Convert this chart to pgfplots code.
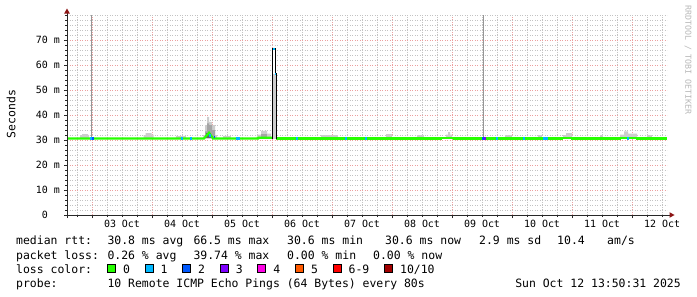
\documentclass[border=0pt]{standalone}
\usepackage{fontspec}
\setmainfont{DejaVu Sans Mono}
\usepackage{pgfplots}
\pgfplotsset{compat=1.18}
\definecolor{gridc}{RGB}{195,195,195}
\definecolor{mgridc}{RGB}{236,160,160}
\definecolor{axisc}{RGB}{40,40,40}
\definecolor{arrowc}{RGB}{140,20,20}
\definecolor{lzero}{HTML}{26FF00}
\definecolor{lone}{HTML}{00B8FF}
\definecolor{ltwo}{HTML}{0059FF}
\definecolor{lthree}{HTML}{7E00FF}
\definecolor{lfour}{HTML}{FF00E6}
\definecolor{lfive}{HTML}{FF5A00}
\definecolor{lsix}{HTML}{FF0000}
\definecolor{lten}{HTML}{A10000}
\definecolor{smka}{RGB}{205,205,205}
\definecolor{smkb}{RGB}{165,165,165}
\definecolor{smkc}{RGB}{100,100,100}
\definecolor{spk}{RGB}{150,150,150}
\definecolor{wm}{RGB}{185,185,185}
\newcommand\tfont{\fontsize{10}{12}\selectfont}
\newcommand\lfont{\fontsize{11.5}{13}\selectfont}
\begin{document}
\begin{tikzpicture}
\path[use as bounding box, fill=white] (0,0) rectangle (697bp,-297bp);
\begin{axis}[
  at={(67bp,-215bp)}, anchor=south west,
  scale only axis, width=600bp, height=200bp,
  xmin=14, xmax=254, ymin=0, ymax=80,
  axis lines=left, axis line style={draw=none},
  xtick={24,48,...,240}, xticklabels={,,,,,,,,,,},
  minor xtick={18,30,36,42,54,60,66,78,84,90,102,108,114,126,132,138,150,156,162,174,180,186,198,204,210,222,228,234,246,252},
  extra x ticks={36,60,84,108,132,156,180,204,228,252},
  extra x tick labels={03 Oct,04 Oct,05 Oct,06 Oct,07 Oct,08 Oct,09 Oct,10 Oct,11 Oct,12 Oct},
  extra x tick style={grid=none, major tick length=0pt},
  ytick={0,10,...,70},
  yticklabels={0\hphantom{mm},10 m,20 m,30 m,40 m,50 m,60 m,70 m},
  minor ytick={2,4,6,8,12,14,16,18,22,24,26,28,32,34,36,38,42,44,46,48,52,54,56,58,62,64,66,68,72,74,76,78,80},
  grid=both,
  major grid style={mgridc, dash pattern=on 1bp off 1.5bp, line width=0.8bp},
  minor grid style={gridc, dash pattern=on 1bp off 1.5bp, line width=0.8bp},
  tick align=outside, major tick length=3bp, minor tick length=2bp,
  tick style={axisc, line width=0.8bp},
  xticklabel style={font=\tfont, anchor=base, inner sep=0pt},
  yticklabel style={font=\tfont, anchor=east, inner sep=0pt},
  xticklabel shift=12.7bp, yticklabel shift=4bp,
  /pgf/number format/assume math mode=true,
  clip=true,
]
% smoke
\addplot[fill=smka, draw=none] coordinates {(19.2,30.6)(19.2,32.0)(20.0,32.0)(20.0,32.4)(22.4,32.4)(22.4,32.0)(22.8,32.0)(22.8,30.6)} -- cycle;
\addplot[fill=smka, draw=none] coordinates {(44.6,30.6)(44.6,32.0)(45.4,32.0)(45.4,32.8)(47.8,32.8)(47.8,32.2)(48.6,32.2)(48.6,30.6)} -- cycle;
\addplot[fill=smka, draw=none] coordinates {(57.6,30.6)(57.6,31.8)(61.6,31.8)(61.6,30.6)} -- cycle;
\addplot[fill=smka, draw=none] coordinates {(68.4,30.6)(68.4,32.0)(69.2,32.0)(69.2,36.0)(70.0,36.0)(70.0,39.3)(70.8,39.3)(70.8,37.3)(72.0,37.3)(72.0,36.0)(73.2,36.0)(73.2,32.0)(74.0,32.0)(74.0,30.6)} -- cycle;
\addplot[fill=smkb, draw=none] coordinates {(69.2,30.8)(69.2,33.5)(70.0,33.5)(70.0,36.7)(70.8,36.7)(70.8,36.0)(72.0,36.0)(72.0,34.0)(73.2,34.0)(73.2,30.8)} -- cycle;
\addplot[fill=smkc, draw=none] coordinates {(69.6,30.8)(69.6,33.0)(71.6,33.0)(71.6,30.8)} -- cycle;
\addplot[fill=smka, draw=none] coordinates {(76.2,30.6)(76.2,31.8)(79.4,31.8)(79.4,30.6)} -- cycle;
\addplot[fill=smka, draw=none] coordinates {(90.4,30.6)(90.4,32.2)(91.6,32.2)(91.6,33.7)(94.0,33.7)(94.0,32.6)(95.6,32.6)(95.6,30.6)} -- cycle;
\addplot[fill=smkb, draw=none] coordinates {(91.6,30.8)(91.6,32.6)(94.0,32.6)(94.0,30.8)} -- cycle;
\addplot[fill=smka, draw=none] coordinates {(96.0,30.6)(96.0,56.5)(97.6,56.5)(97.6,30.6)} -- cycle;
\addplot[fill=smka, draw=none] coordinates {(115.6,30.6)(115.6,32.0)(122.4,32.0)(122.4,30.6)} -- cycle;
\addplot[fill=smka, draw=none] coordinates {(141.6,30.6)(141.6,32.5)(144.0,32.5)(144.0,30.6)} -- cycle;
\addplot[fill=smka, draw=none] coordinates {(154.0,30.6)(154.0,32.0)(156.8,32.0)(156.8,30.6)} -- cycle;
\addplot[fill=smka, draw=none] coordinates {(165.6,30.6)(165.6,32.2)(166.4,32.2)(166.4,33.2)(167.2,33.2)(167.2,32.2)(168.0,32.2)(168.0,30.6)} -- cycle;
\addplot[fill=smka, draw=none] coordinates {(189.2,30.6)(189.2,32.2)(192.0,32.2)(192.0,30.6)} -- cycle;
\addplot[fill=smka, draw=none] coordinates {(202.4,30.6)(202.4,32.0)(204.0,32.0)(204.0,30.6)} -- cycle;
\addplot[fill=smka, draw=none] coordinates {(212.4,30.6)(212.4,32.0)(213.6,32.0)(213.6,32.8)(216.0,32.8)(216.0,30.6)} -- cycle;
\addplot[fill=smka, draw=none] coordinates {(227.2,30.6)(227.2,32.0)(228.4,32.0)(228.4,30.6)} -- cycle;
\addplot[fill=smka, draw=none] coordinates {(235.2,30.6)(235.2,32.2)(236.8,32.2)(236.8,33.5)(238.4,33.5)(238.4,32.6)(242.0,32.6)(242.0,30.6)} -- cycle;
\addplot[fill=smka, draw=none] coordinates {(246.0,30.6)(246.0,32.2)(248.0,32.2)(248.0,30.6)} -- cycle;
% tall outlier lines
\addplot[spk, line width=0.9bp] coordinates {(23.6,31) (23.6,80)};
\addplot[spk, line width=0.9bp] coordinates {(180.4,31) (180.4,80)};
% median (0 loss)
\addplot[lzero, line width=2.2bp] coordinates {(14,30.6) (68.8,30.6) (70.8,32.9) (72.4,30.6) (90.4,30.6) (90.4,30.9) (96,30.9)};
\addplot[lzero, line width=2.2bp] coordinates {(97.6,30.6) (163.6,30.6) (163.6,30.8) (168.8,30.8) (168.8,30.6) (212,30.6) (212,30.8) (216,30.8) (216,30.6) (235.2,30.6) (235.2,30.8) (242,30.8) (242,30.6) (254,30.6)};
% spike median
\addplot[black, line width=1bp, const plot] coordinates {(96,30.6) (96,66.5) (97.2,56.5) (97.6,30.6)};
% loss coloured segments
\addplot[lone, line width=2.2bp] coordinates {(23.0,30.6) (23.8,30.6)};
\addplot[ltwo, line width=2.2bp] coordinates {(23.8,30.6) (24.6,30.6)};
\addplot[lone, line width=2.2bp] coordinates {(59.6,30.6) (60.2,30.6)};
\addplot[lone, line width=2.2bp] coordinates {(63.2,30.6) (63.8,30.6)};
\addplot[lone, line width=2.2bp] coordinates {(70.8,31.8) (71.4,31.8)};
\addplot[ltwo, line width=2.2bp] coordinates {(72.6,31.2) (73.2,31.2)};
\addplot[lone, line width=2.2bp] coordinates {(81.6,30.6) (83.2,30.6)};
\addplot[lone, line width=2.2bp] coordinates {(96.4,66.5) (97.2,66.5)};
\addplot[lone, line width=2.2bp] coordinates {(97.2,56.3) (97.6,56.3)};
\addplot[lone, line width=2.2bp] coordinates {(105.6,30.6) (106.2,30.6)};
\addplot[lone, line width=2.2bp] coordinates {(125.2,30.6) (125.8,30.6)};
\addplot[lone, line width=2.2bp] coordinates {(133.2,30.6) (133.8,30.6)};
\addplot[ltwo, line width=2.2bp] coordinates {(180.0,30.6) (180.6,30.6)};
\addplot[lthree, line width=2.2bp] coordinates {(180.6,30.6) (181.4,30.6)};
\addplot[lone, line width=2.2bp] coordinates {(185.6,30.6) (186.2,30.6)};
\addplot[lone, line width=2.2bp] coordinates {(196.4,30.6) (197.0,30.6)};
\addplot[lone, line width=2.2bp] coordinates {(204.4,30.6) (206.4,30.6)};
\addplot[lone, line width=2.2bp] coordinates {(238.0,30.6) (238.6,30.6)};
\end{axis}
% axis lines with arrows
\draw[axisc, line width=1bp] (67bp,-218bp) -- (67bp,-12bp);
\fill[arrowc] (64.2bp,-13.5bp) -- (69.8bp,-13.5bp) -- (67bp,-8.5bp) -- cycle;
\draw[axisc, line width=1bp] (64bp,-215bp) -- (670bp,-215bp);
\fill[arrowc] (669.5bp,-212.2bp) -- (669.5bp,-217.8bp) -- (674.5bp,-215bp) -- cycle;
% unit label and watermark
\node[rotate=90, font=\lfont, inner sep=0pt] at (11bp,-114bp) {Seconds};
\node[rotate=-90, anchor=west, font=\fontsize{8.3}{9}\selectfont, text=wm, inner sep=0pt] at (688bp,-5bp) {RRDTOOL / TOBI OETIKER};
% legend
\begin{scope}[every node/.style={inner sep=0pt, font=\lfont, anchor=base west}]
\node at (16bp,-244.3bp) {median rtt:};
\node at (107.3bp,-244.3bp) {30.8 ms avg};
\node at (193.3bp,-244.3bp) {66.5 ms max};
\node at (287bp,-244.3bp) {30.6 ms min};
\node at (385bp,-244.3bp) {30.6 ms now};
\node at (479bp,-244.3bp) {2.9 ms sd};
\node at (557bp,-244.3bp) {10.4};
\node at (607bp,-244.3bp) {am/s};
\node at (16bp,-259bp) {packet loss:};
\node at (107.3bp,-259bp) {0.26 \% avg};
\node at (193.3bp,-259bp) {39.74 \% max};
\node at (287bp,-259bp) {0.00 \% min};
\node at (373bp,-259bp) {0.00 \% now};
\node at (16bp,-273.3bp) {loss color:};
\node at (122.8bp,-273.3bp) {0};
\node at (160.4bp,-273.3bp) {1};
\node at (198bp,-273.3bp) {2};
\node at (235.6bp,-273.3bp) {3};
\node at (273.2bp,-273.3bp) {4};
\node at (310.8bp,-273.3bp) {5};
\node at (348.4bp,-273.3bp) {6-9};
\node at (399.9bp,-273.3bp) {10/10};
\node at (16bp,-287.7bp) {probe:};
\node at (107.3bp,-287.7bp) {10 Remote ICMP Echo Pings (64 Bytes) every 80s};
\node[anchor=base east] at (681bp,-287.7bp) {Sun Oct 12 13:50:31 2025};
\end{scope}
\foreach \bx/\col in {107.3/lzero,144.9/lone,182.5/ltwo,220.1/lthree,257.7/lfour,295.3/lfive,332.9/lsix,384.4/lten}{
  \filldraw[fill=\col, draw=black, line width=0.8bp] (\bx bp,-264.5bp) rectangle ++(8bp,-7.5bp);
}
\end{tikzpicture}
\end{document}
